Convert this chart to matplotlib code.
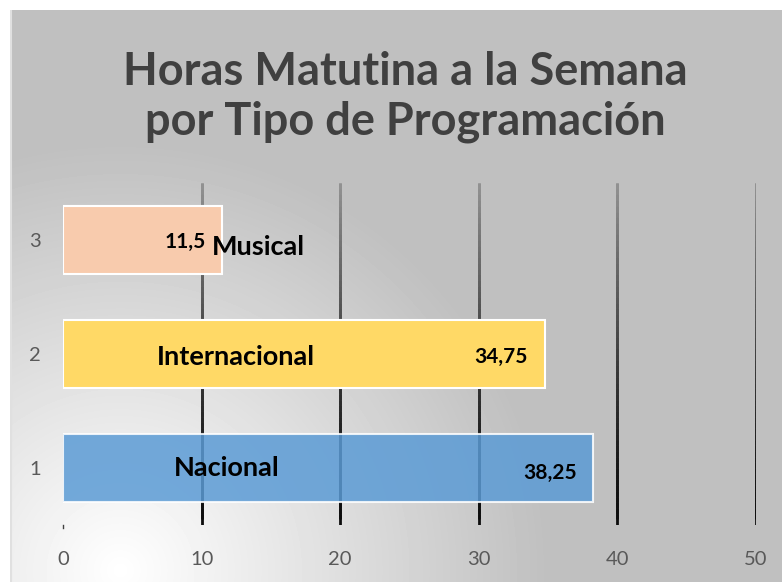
import numpy as np
import matplotlib.pyplot as plt
from matplotlib.collections import LineCollection

# data
categories = ["1", "2", "3"]
values = [38.25, 34.75, 11.5]
names = ["Nacional", "Internacional", "Musical"]
value_labels = ["38,25", "34,75", "11,5"]
colors = ["#5b9bd5", "#ffd966", "#f8cbad"]
xticks = [0, 10, 20, 30, 40, 50]

plt.rcParams['font.family'] = ['Lato', 'DejaVu Sans']

W, H = 782, 582
fig = plt.figure(figsize=(W / 100, H / 100), dpi=100)
fig.patch.set_facecolor("white")

# gradient chart background (radial, light at lower left)
bg = fig.add_axes([10 / W, 0, (W - 10) / W, (H - 10) / H], zorder=-2)
xx, yy = np.meshgrid(np.arange(W - 10), np.arange(H - 10))
d = np.sqrt((xx - 110) ** 2 + (yy - 560) ** 2) / 430
shade = 1 - 0.25 * np.clip(d, 0, 1)
bg.imshow(shade, cmap="gray", vmin=0, vmax=1, aspect="auto", origin="upper")
bg.axis("off")
bg.axvline(0, color="#e0e0e0", lw=1.5)

ax = fig.add_axes([63 / W, 1 - 525 / H, (756 - 63) / W, (525 - 183) / H])
ax.patch.set_alpha(0)

# gridlines with a dark-at-bottom fade
for xv in xticks[1:]:
    ys = np.linspace(0.5, 3.5, 61)
    segs = [[(xv, ys[i]), (xv, ys[min(i + 2, len(ys) - 1)])] for i in range(len(ys) - 1)]
    t = np.linspace(0, 1, len(segs))
    cols = [(0.05 + 0.52 * v, 0.05 + 0.52 * v, 0.05 + 0.52 * v, 1) for v in t ** 1.4]
    ax.add_collection(LineCollection(segs, colors=cols, linewidths=2,
                                     capstyle="butt", zorder=1))

ypos = np.arange(1, len(values) + 1)
alphas = [0.85, 1, 1]
for y, v, c, a in zip(ypos, values, colors, alphas):
    ax.barh(y, v, height=0.6, color=c, alpha=a, edgecolor="white", linewidth=1.5, zorder=2)

value_dy = [-0.04, -0.03, -0.02]
for y, v, lab, dy in zip(ypos, values, value_labels, value_dy):
    ax.text(v - 1.2, y + dy, lab, ha="right", va="center", fontsize=15,
            fontweight="bold", color="black", zorder=3)

name_x = [11.8, 12.45, 14.1]
name_dy = [0.0, -0.03, -0.06]
for y, nm, nx, dy in zip(ypos, names, name_x, name_dy):
    ax.text(nx, y + dy, nm, ha="center", va="center", fontsize=19.5,
            fontweight="bold", color="black", zorder=3)

ax.set_xlim(0, 50)
ax.set_ylim(0.5, 3.5)
ax.set_xticks(xticks)
ax.set_yticks(ypos)
ax.set_yticklabels(categories)
ax.tick_params(axis="x", length=0, pad=19, labelsize=14.5, labelcolor="#595959")
ax.tick_params(axis="y", length=0, pad=16, labelsize=14.5, labelcolor="#595959")
for s in ax.spines.values():
    s.set_visible(False)
# small mark at the origin
ax.plot([0, 0], [0.47, 0.5], color="#404040", lw=1, clip_on=False)

fig.text(405 / W, 1 - 97 / H, "Horas Matutina a la Semana\npor Tipo de Programación",
         ha="center", va="center", fontsize=32.5, fontweight="bold", color="#404040",
         linespacing=1.2)

fig.savefig("out.png", dpi=100)
